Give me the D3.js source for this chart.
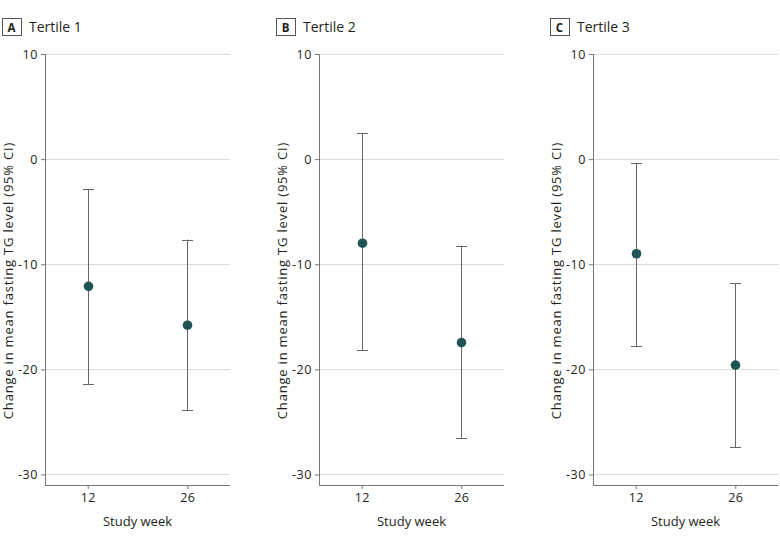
<!DOCTYPE html>
<html><head><meta charset="utf-8">
<script src="https://cdn.jsdelivr.net/npm/d3@7"></script>
<style>body{margin:0;background:#fff}svg{display:block}text{font-family:"Open Sans",sans-serif;fill:#231f20}</style>
</head><body><svg width="780" height="539"></svg>
<script>
const panels = ["A","B","C"];
const titles = ["Tertile 1","Tertile 2","Tertile 3"];
const weeks = [12, 26];
const estimate = [[-12.1,-15.8],[-8.0,-17.45],[-9.0,-19.6]];
const lower = [[-21.4,-23.9],[-18.2,-26.5],[-17.8,-27.4]];
const upper = [[-2.85,-7.65],[2.45,-8.25],[-0.35,-11.8]];
const yTicks = [10,0,-10,-20,-30];
const yTitle = "Change in mean fasting TG level (95% CI)";
const xTitle = "Study week";

const svg = d3.select("svg");
const W = 185, plotTop = 54, plotBottom = 485;
const x = d3.scaleLinear().domain([6,32]).range([0,W]);
const y = d3.scaleLinear().domain([-31,10]).range([plotBottom,plotTop]);
const offsets = [45, 319, 593];

panels.forEach((p,i)=>{
  const g = svg.append("g").attr("transform",`translate(${offsets[i]},0)`);
  g.selectAll(".grid").data(yTicks).join("line")
    .attr("x1",0).attr("x2",W).attr("y1",d=>Math.round(y(d))+0.5).attr("y2",d=>Math.round(y(d))+0.5)
    .attr("stroke","#dcdcdc").attr("stroke-width",1);
  const ya = g.append("g").call(d3.axisLeft(y).tickValues(yTicks).tickSize(4).tickPadding(3).tickFormat(d=>d<0?"-"+Math.abs(d):d));
  ya.select(".domain").remove();
  ya.selectAll(".tick line").attr("stroke","#777");
  ya.selectAll(".tick text").style("font-size","12.5px").style("letter-spacing","0.6px").attr("fill","#231f20");
  g.append("line").attr("x1",0.5).attr("x2",0.5).attr("y1",plotTop).attr("y2",plotBottom).attr("stroke","#777");
  const xa = g.append("g").attr("transform",`translate(0,${plotBottom})`).call(d3.axisBottom(x).tickValues(weeks).tickSize(4).tickPadding(4));
  xa.select(".domain").remove();
  xa.selectAll(".tick line").attr("stroke","#777");
  xa.selectAll(".tick text").style("font-size","12.5px").style("letter-spacing","0.4px").attr("fill","#231f20");
  g.append("line").attr("x1",0).attr("x2",W).attr("y1",plotBottom+0.5).attr("y2",plotBottom+0.5).attr("stroke","#777");
  g.append("text").attr("x",W/2).attr("y",526).attr("text-anchor","middle").style("font-size","13px").text(xTitle);
  g.append("text").attr("transform",`translate(-32,${(plotTop+plotBottom)/2+11}) rotate(-90)`).attr("text-anchor","middle")
    .style("font-size","13px").style("letter-spacing","0.8px").text(yTitle);
  g.append("rect").attr("x",-43+0.5).attr("y",18.5).attr("width",19).attr("height",17).attr("fill","#fff").attr("stroke","#555");
  g.append("text").attr("x",-33.5).attr("y",31.5).attr("text-anchor","middle").style("font-size","11.5px").style("font-weight","bold").text(p);
  g.append("text").attr("x",-16).attr("y",32).style("font-size","14px").text(titles[i]);
  const data = weeks.map((w,j)=>({w, e:estimate[i][j], lo:lower[i][j], hi:upper[i][j]}));
  const eb = g.selectAll(".eb").data(data).join("g");
  eb.append("line").attr("x1",d=>Math.round(x(d.w))+0.5).attr("x2",d=>Math.round(x(d.w))+0.5)
    .attr("y1",d=>y(d.hi)).attr("y2",d=>y(d.lo)).attr("stroke","#666");
  eb.selectAll(".cap").data(d=>[[d.w,d.hi],[d.w,d.lo]]).join("line")
    .attr("x1",d=>Math.round(x(d[0]))-5).attr("x2",d=>Math.round(x(d[0]))+6)
    .attr("y1",d=>Math.round(y(d[1]))+0.5).attr("y2",d=>Math.round(y(d[1]))+0.5).attr("stroke","#666");
  eb.append("circle").attr("cx",d=>Math.round(x(d.w))+0.5).attr("cy",d=>y(d.e)).attr("r",4.8).attr("fill","#1e5453");
});
</script></body></html>
